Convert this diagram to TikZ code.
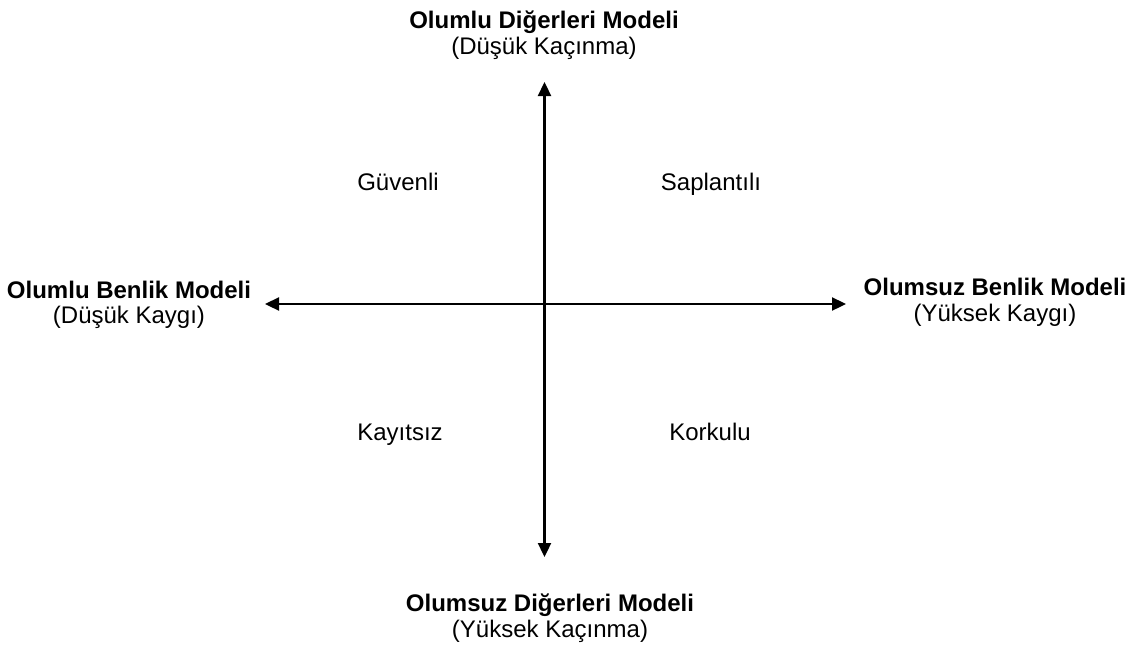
\documentclass[tikz,border=0pt]{standalone}
\usepackage{fontspec}
\setmainfont{Liberation Sans}
\usetikzlibrary{arrows.meta}
\begin{document}
\begin{tikzpicture}[x=1pt,y=-1pt,
  axis/.style={line width=2.3pt,{Triangle[length=14pt,width=13pt]}-{Triangle[length=14pt,width=13pt]}},
  pole/.style={align=center,anchor=base,inner sep=0pt,font=\fontsize{24}{25.5}\selectfont},
  quad/.style={anchor=base,inner sep=0pt,font=\fontsize{24}{25}\selectfont}]
\useasboundingbox (0,0) rectangle (1135,646);
\coordinate (top) at (544.5,82);
\coordinate (bot) at (544.5,557);
\coordinate (lft) at (265,304);
\coordinate (rgt) at (846,304);
\draw[axis] (bot) -- (top);
\draw[axis] (lft) -- (rgt);
\node[pole] (ntop) at (544,54) {\textbf{Olumlu Diğerleri Modeli}\\(Düşük Kaçınma)};
\node[pole] (nbot) at (550,637) {\textbf{Olumsuz Diğerleri Modeli}\\(Yüksek Kaçınma)};
\node[pole] (nlft) at (129,323.5) {\textbf{Olumlu Benlik Modeli}\\(Düşük Kaygı)};
\node[pole] (nrgt) at (995,321) {\textbf{Olumsuz Benlik Modeli}\\(Yüksek Kaygı)};
\node[quad] (q1) at (398,190) {Güvenli};
\node[quad] (q2) at (711,190) {Saplantılı};
\node[quad] (q3) at (400,440) {Kayıtsız};
\node[quad] (q4) at (710,440) {Korkulu};
\end{tikzpicture}
\end{document}
